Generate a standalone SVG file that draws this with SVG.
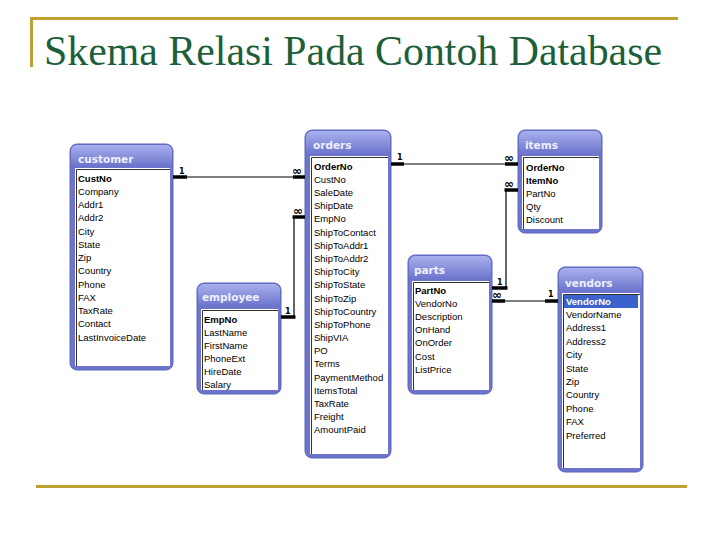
<svg xmlns="http://www.w3.org/2000/svg" width="720" height="540" viewBox="0 0 720 540">
<defs>
<linearGradient id="tg" x1="0" y1="0" x2="0" y2="1">
<stop offset="0" stop-color="#a9b0ee"/>
<stop offset="1" stop-color="#6a72cb"/>
</linearGradient>
</defs>
<style>
.frame{fill:#6c74cb;stroke:#5c64bc;stroke-width:1}
.tbar{fill:url(#tg)}
.list{fill:#ffffff}
.inset{fill:none;stroke:#333;stroke-width:1}
.ttl{font-family:"DejaVu Sans",sans-serif;font-weight:bold;font-size:10.5px;fill:#eef0ff}
.fld{font-family:"Liberation Sans",Arial,sans-serif;font-size:9.5px;fill:#000}
.key{font-weight:bold}
.ln{stroke:#000;stroke-width:1.2;fill:none}
.tk{stroke:#000;stroke-width:3.5;fill:none}
.lbl{font-family:"DejaVu Sans",sans-serif;font-weight:bold;font-size:8px;fill:#000}
.inf{font-family:"DejaVu Sans",sans-serif;font-weight:bold;font-size:12px;fill:#000}
</style>
<rect x="0" y="0" width="720" height="540" fill="#fff"/>
<g id="title">
<rect x="30" y="17" width="648" height="3" fill="#c0a030"/>
<rect x="30" y="17" width="3" height="50" fill="#c0a030"/>
<text x="44" y="65" font-family="Liberation Serif,'Times New Roman',serif" font-size="43" fill="#1d5f3a" textLength="618" lengthAdjust="spacingAndGlyphs">Skema Relasi Pada Contoh Database</text>
<rect x="36" y="485" width="651" height="3" fill="#c0a030"/>
</g>

<g id="customer">
<rect class="frame" x="70" y="144" width="103" height="226" rx="7"/>
<rect class="tbar" x="71" y="145" width="101" height="22" rx="6"/>
<text class="ttl" x="78" y="163">customer</text>
<rect class="list" x="75" y="168" width="95" height="198"/>
<path class="inset" d="M76.5,366 V169.5 H170"/>
<text class="fld" x="78" y="181.5"><tspan class="key">CustNo</tspan><tspan x="78" dy="13.25">Company</tspan><tspan x="78" dy="13.25">Addr1</tspan><tspan x="78" dy="13.25">Addr2</tspan><tspan x="78" dy="13.25">City</tspan><tspan x="78" dy="13.25">State</tspan><tspan x="78" dy="13.25">Zip</tspan><tspan x="78" dy="13.25">Country</tspan><tspan x="78" dy="13.25">Phone</tspan><tspan x="78" dy="13.25">FAX</tspan><tspan x="78" dy="13.25">TaxRate</tspan><tspan x="78" dy="13.25">Contact</tspan><tspan x="78" dy="13.25">LastInvoiceDate</tspan></text>
</g>

<g id="employee">
<rect class="frame" x="197" y="283" width="84" height="111" rx="7"/>
<rect class="tbar" x="198" y="284" width="82" height="23" rx="6"/>
<text class="ttl" x="202" y="301">employee</text>
<rect class="list" x="201" y="309" width="77" height="81"/>
<path class="inset" d="M202.5,390 V310.5 H278"/>
<text class="fld" x="204" y="322.5"><tspan class="key">EmpNo</tspan><tspan x="204" dy="13">LastName</tspan><tspan x="204" dy="13">FirstName</tspan><tspan x="204" dy="13">PhoneExt</tspan><tspan x="204" dy="13">HireDate</tspan><tspan x="204" dy="13">Salary</tspan></text>
</g>

<g id="orders">
<rect class="frame" x="305" y="130" width="86" height="328" rx="7"/>
<rect class="tbar" x="306" y="131" width="84" height="24" rx="6"/>
<text class="ttl" x="313" y="149">orders</text>
<rect class="list" x="310" y="156" width="78" height="298"/>
<path class="inset" d="M311.5,454 V157.5 H388"/>
<text class="fld" x="314" y="169.5"><tspan class="key">OrderNo</tspan><tspan x="314" dy="13.2">CustNo</tspan><tspan x="314" dy="13.2">SaleDate</tspan><tspan x="314" dy="13.2">ShipDate</tspan><tspan x="314" dy="13.2">EmpNo</tspan><tspan x="314" dy="13.2">ShipToContact</tspan><tspan x="314" dy="13.2">ShipToAddr1</tspan><tspan x="314" dy="13.2">ShipToAddr2</tspan><tspan x="314" dy="13.2">ShipToCity</tspan><tspan x="314" dy="13.2">ShipToState</tspan><tspan x="314" dy="13.2">ShipToZip</tspan><tspan x="314" dy="13.2">ShipToCountry</tspan><tspan x="314" dy="13.2">ShipToPhone</tspan><tspan x="314" dy="13.2">ShipVIA</tspan><tspan x="314" dy="13.2">PO</tspan><tspan x="314" dy="13.2">Terms</tspan><tspan x="314" dy="13.2">PaymentMethod</tspan><tspan x="314" dy="13.2">ItemsTotal</tspan><tspan x="314" dy="13.2">TaxRate</tspan><tspan x="314" dy="13.2">Freight</tspan><tspan x="314" dy="13.2">AmountPaid</tspan></text>
</g>

<g id="items">
<rect class="frame" x="518" y="130" width="84" height="103" rx="7"/>
<rect class="tbar" x="519" y="131" width="82" height="24" rx="6"/>
<text class="ttl" x="525" y="149">items</text>
<rect class="list" x="522" y="156" width="77" height="73"/>
<path class="inset" d="M523.5,229 V157.5 H599"/>
<text class="fld" x="526" y="170.5"><tspan class="key">OrderNo</tspan><tspan x="526" dy="13"><tspan class="key">ItemNo</tspan></tspan><tspan x="526" dy="13">PartNo</tspan><tspan x="526" dy="13">Qty</tspan><tspan x="526" dy="13">Discount</tspan></text>
</g>

<g id="parts">
<rect class="frame" x="408" y="255" width="84" height="139" rx="7"/>
<rect class="tbar" x="409" y="256" width="82" height="24" rx="6"/>
<text class="ttl" x="414" y="274">parts</text>
<rect class="list" x="412" y="281" width="77" height="109"/>
<path class="inset" d="M413.5,390 V282.5 H489"/>
<text class="fld" x="415" y="293.5"><tspan class="key">PartNo</tspan><tspan x="415" dy="13.2">VendorNo</tspan><tspan x="415" dy="13.2">Description</tspan><tspan x="415" dy="13.2">OnHand</tspan><tspan x="415" dy="13.2">OnOrder</tspan><tspan x="415" dy="13.2">Cost</tspan><tspan x="415" dy="13.2">ListPrice</tspan></text>
</g>

<g id="vendors">
<rect class="frame" x="558" y="267" width="85" height="205" rx="7"/>
<rect class="tbar" x="559" y="268" width="83" height="24" rx="6"/>
<text class="ttl" x="565" y="287">vendors</text>
<rect class="list" x="562" y="293" width="78" height="175"/>
<path class="inset" d="M563.5,468 V294.5 H640"/>
<rect x="564" y="295" width="74" height="13" fill="#3a64cc"/>
<text class="fld" x="566" y="304.5"><tspan class="key" fill="#fff">VendorNo</tspan><tspan x="566" dy="13.4">VendorName</tspan><tspan x="566" dy="13.4">Address1</tspan><tspan x="566" dy="13.4">Address2</tspan><tspan x="566" dy="13.4">City</tspan><tspan x="566" dy="13.4">State</tspan><tspan x="566" dy="13.4">Zip</tspan><tspan x="566" dy="13.4">Country</tspan><tspan x="566" dy="13.4">Phone</tspan><tspan x="566" dy="13.4">FAX</tspan><tspan x="566" dy="13.4">Preferred</tspan></text>
</g>

<g id="connectors">
<line class="ln" x1="173" y1="177" x2="305" y2="177"/>
<line class="tk" x1="173" y1="177" x2="187" y2="177"/>
<line class="tk" x1="293" y1="177" x2="305" y2="177"/>
<text class="lbl" x="179" y="174">1</text>
<text class="inf" x="292" y="175">∞</text>

<polyline class="ln" points="281,317 294,317 294,217 305,217"/>
<line class="tk" x1="281" y1="317" x2="295.5" y2="317"/>
<line class="tk" x1="292.5" y1="217" x2="305" y2="217"/>
<text class="lbl" x="285" y="314">1</text>
<text class="inf" x="293" y="215">∞</text>

<line class="ln" x1="391" y1="164" x2="518" y2="164"/>
<line class="tk" x1="391" y1="164" x2="404" y2="164"/>
<line class="tk" x1="505" y1="164" x2="518" y2="164"/>
<text class="lbl" x="397" y="160">1</text>
<text class="inf" x="504" y="162">∞</text>

<polyline class="ln" points="518,190 506,190 506,288 492,288"/>
<line class="tk" x1="504.5" y1="190" x2="518" y2="190"/>
<line class="tk" x1="492" y1="288" x2="507.5" y2="288"/>
<text class="inf" x="504" y="188">∞</text>
<text class="lbl" x="497" y="285">1</text>

<line class="ln" x1="492" y1="301" x2="558" y2="301"/>
<line class="tk" x1="492" y1="301" x2="505" y2="301"/>
<line class="tk" x1="545" y1="301" x2="558" y2="301"/>
<text class="inf" x="492" y="299">∞</text>
<text class="lbl" x="548" y="297">1</text>
</g>
</svg>
